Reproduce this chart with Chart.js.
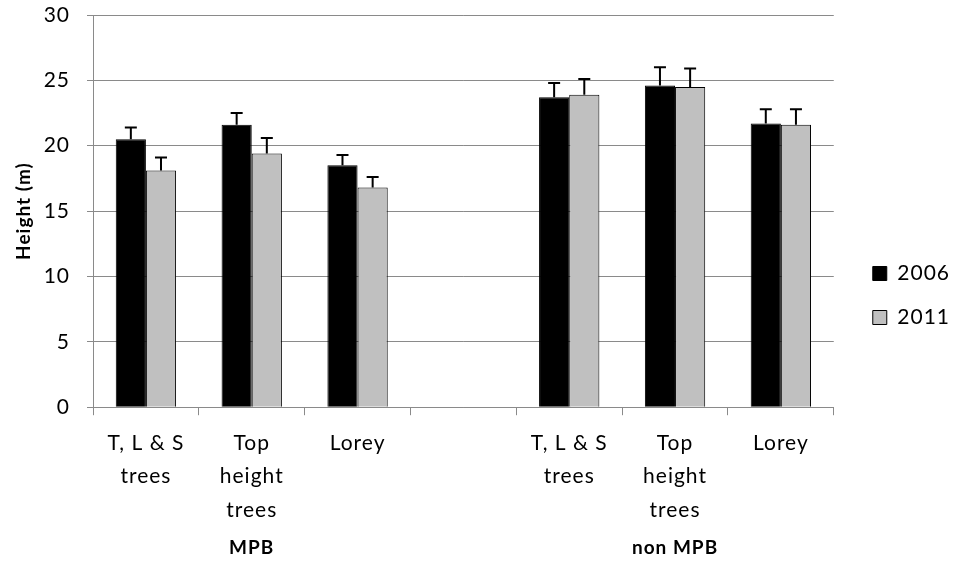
<!DOCTYPE html>
<html>
<head>
<meta charset="utf-8">
<script src="https://cdn.jsdelivr.net/npm/chart.js@4"></script>
<style>
  html, body { margin: 0; padding: 0; background: #fff; }
  #wrap { width: 955px; height: 563px; }
</style>
</head>
<body>
<div id="wrap"><canvas id="heightChart" width="955" height="563"></canvas></div>
<script>
// categorias (slot vazio entre os grupos)
const labels = [
  ['T, L & S', 'trees'], ['Top', 'height', 'trees'], 'Lorey', '',
  ['T, L & S', 'trees'], ['Top', 'height', 'trees'], 'Lorey'
]
const groupLabels = ['', 'MPB', '', '', '', 'non MPB', '']

// alturas médias (m) e erro (só para cima)
const h2006 = [20.5, 21.6, 18.5, null, 23.7, 24.6, 21.7]
const h2011 = [18.1, 19.4, 16.8, null, 23.9, 24.5, 21.6]
const err2006 = [0.9, 0.9, 0.8, null, 1.1, 1.4, 1.1]
const err2011 = [1.0, 1.2, 0.8, null, 1.2, 1.4, 1.2]

const yTicks = [0, 5, 10, 15, 20, 25, 30]

const fontFam = 'Lato, "Open Sans", sans-serif'
const gray = '#8a8a8a'

// espaçamento entre letras, parecido com o Excel
const spacing = {
  id: 'spacing',
  beforeLayout(chart) { chart.ctx.letterSpacing = '1px' },
  beforeDraw(chart) { chart.ctx.letterSpacing = '1px' },
  afterLayout(chart) {
    // empurra a legenda um pouco para a direita e para baixo
    chart.legend.left += 16
    chart.legend.right += 16
    chart.legend.top += 26
    chart.legend.bottom += 26
  }
}

// rótulos dos grupos (MPB / non MPB) embaixo do eixo x
const groupText = {
  id: 'groupText',
  afterDraw(chart) {
    const x = chart.scales.x
    const ctx = chart.ctx
    ctx.save()
    ctx.letterSpacing = '1px'
    ctx.font = 'bold 19px ' + fontFam
    ctx.fillStyle = '#000'
    ctx.textAlign = 'center'
    ctx.textBaseline = 'middle'
    groupLabels.forEach((g, i) => {
      if (g) ctx.fillText(g, x.getPixelForValue(i), x.bottom + 10)
    })
    ctx.restore()
  }
}

// desenha as barras de erro
const errorBars = {
  id: 'errorBars',
  afterDatasetsDraw(chart) {
    const ctx = chart.ctx
    const y = chart.scales.y
    chart.data.datasets.forEach((ds, i) => {
      const meta = chart.getDatasetMeta(i)
      meta.data.forEach((bar, j) => {
        const v = ds.data[j]
        const e = ds.errors[j]
        if (v == null || e == null) return
        const top = y.getPixelForValue(v + e)
        ctx.save()
        ctx.strokeStyle = '#000'
        ctx.lineWidth = 2
        ctx.beginPath()
        ctx.moveTo(bar.x, bar.y)
        ctx.lineTo(bar.x, top)
        ctx.moveTo(bar.x - 6, top)
        ctx.lineTo(bar.x + 6, top)
        ctx.stroke()
        ctx.restore()
      })
    })
  }
}

const ctx = document.getElementById('heightChart').getContext('2d')
new Chart(ctx, {
  type: 'bar',
  data: {
    labels: labels,
    datasets: [
      {
        label: '2006',
        data: h2006,
        errors: err2006,
        backgroundColor: '#000000',
        borderColor: '#000000',
        borderWidth: 1
      },
      {
        label: '2011',
        data: h2011,
        errors: err2011,
        backgroundColor: '#c0c0c0',
        borderColor: '#000000',
        borderWidth: 1
      }
    ]
  },
  options: {
    responsive: false,
    animation: false,
    categoryPercentage: 0.57,
    barPercentage: 1,
    layout: { padding: { top: 1, right: 11, left: 0, bottom: 25 } },
    plugins: {
      legend: {
        position: 'right',
        labels: {
          boxWidth: 14,
          boxHeight: 14,
          padding: 23,
          color: '#000',
          font: { family: fontFam, size: 21 }
        }
      },
      tooltip: { enabled: false }
    },
    scales: {
      x: {
        grid: {
          offset: true,
          drawOnChartArea: false,
          drawTicks: true,
          tickLength: 8,
          color: gray
        },
        border: { color: gray, width: 1 },
        ticks: {
          color: '#000',
          padding: 11,
          maxRotation: 0,
          autoSkip: false,
          font: { family: fontFam, size: 21, lineHeight: 1.6 }
        }
      },
      y: {
        min: 0,
        max: 30,
        afterBuildTicks: s => { s.ticks = yTicks.map(v => ({ value: v })) },
        afterFit: s => {
          s.width = 93
          s.paddingTop = 15
          s.paddingBottom = 15
        },
        grid: { color: gray, tickLength: 6 },
        border: { color: gray, width: 1 },
        ticks: {
          color: '#000',
          padding: 17,
          font: { family: fontFam, size: 21, lineHeight: 1 }
        },
        title: {
          display: true,
          text: 'Height (m)',
          color: '#000',
          padding: { top: 12, bottom: 0 },
          font: { family: fontFam, size: 19, weight: 'bold' }
        }
      }
    }
  },
  plugins: [spacing, errorBars, groupText]
})
</script>
</body>
</html>
